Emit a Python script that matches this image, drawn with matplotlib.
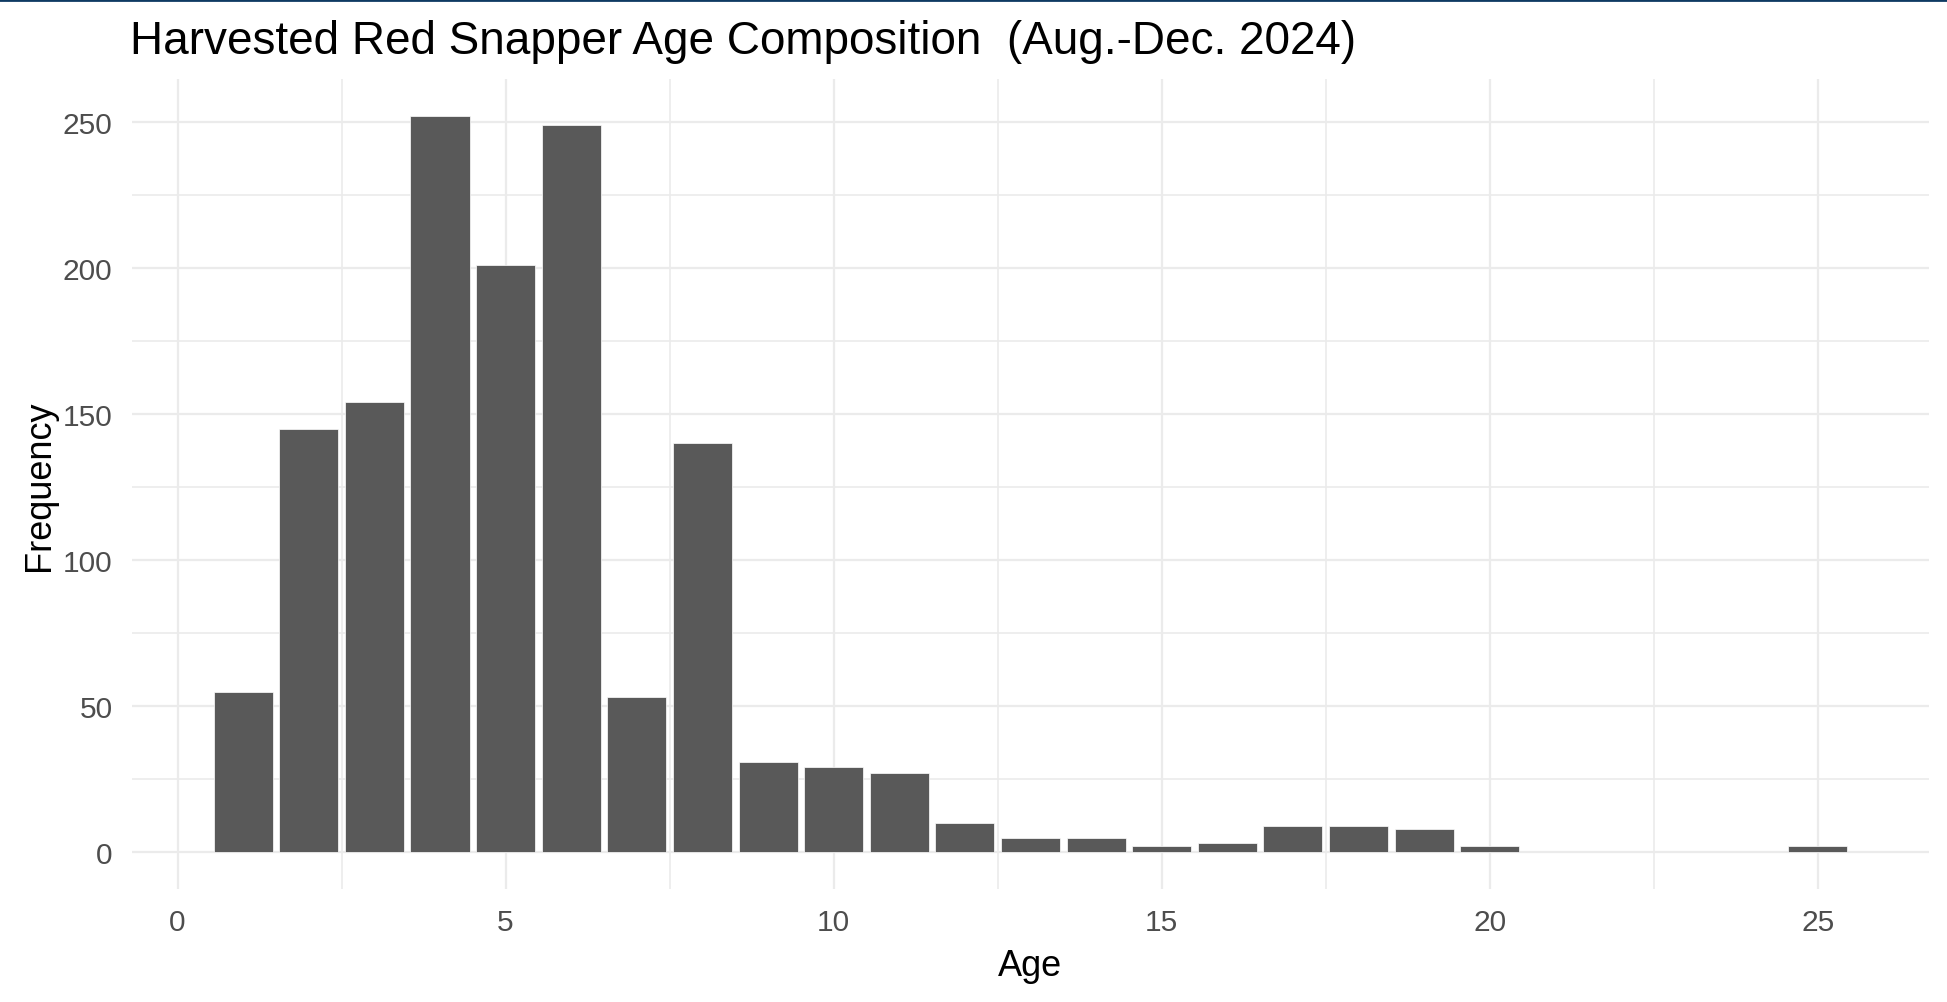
import numpy as np
import matplotlib
matplotlib.use("Agg")
from matplotlib import pyplot as plt
from matplotlib.lines import Line2D

ages = [1, 2, 3, 4, 5, 6, 7, 8, 9, 10, 11, 12, 13, 14, 15, 16, 17, 18, 19, 20, 25]
freq = [55, 145, 154, 252, 201, 249, 53, 140, 31, 29, 27, 10, 5, 5, 2, 3, 9, 9, 8, 2, 2]
x_ticks = [0, 5, 10, 15, 20, 25]
y_ticks = [0, 50, 100, 150, 200, 250]

title = "Harvested Red Snapper Age Composition  (Aug.-Dec. 2024)"


def main():
    plt.rcParams['font.family'] = ['Liberation Sans', 'DejaVu Sans']
    fig = plt.figure(figsize=(19.47, 10.03), dpi=100)
    ax = fig.add_axes([0.0678, 0.1127, 0.9229, 0.8071])

    ax.bar(ages, freq, width=0.9, color='#595959', edgecolor='white', linewidth=0.5, zorder=3)

    # ggplot-style 5% expansion
    x_lo, x_hi = min(ages) - 0.45, max(ages) + 0.45
    dx = (x_hi - x_lo) * 0.05
    ax.set_xlim(x_lo - dx, x_hi + dx)
    dy = max(freq) * 0.05
    ax.set_ylim(-dy, max(freq) + dy)

    ax.set_xticks(x_ticks)
    ax.set_yticks(y_ticks)
    ax.set_xticks([t + 2.5 for t in x_ticks[:-1]], minor=True)
    ax.set_yticks([t + 25 for t in y_ticks[:-1]], minor=True)
    ax.grid(which='major', color='#EBEBEB', linewidth=1.6, zorder=0)
    ax.grid(which='minor', color='#EBEBEB', linewidth=1.2, zorder=0)
    ax.set_axisbelow(True)
    for s in ax.spines.values():
        s.set_visible(False)
    ax.tick_params(which='both', length=0, labelsize=21.5, labelcolor='#4D4D4D')
    ax.tick_params(axis='x', pad=14)
    ax.tick_params(axis='y', pad=14)

    ax.set_xlabel('Age', fontsize=26, labelpad=8)
    ax.set_ylabel('Frequency', fontsize=26, labelpad=4)
    ax.set_title(title, fontsize=33, loc='left', x=-0.001, pad=19)

    # thin navy rule along the very top
    fig.add_artist(Line2D([0, 1], [0.999, 0.999], transform=fig.transFigure, color='#0E3A62', linewidth=2))

    fig.savefig('out.png', dpi=100)


if __name__ == "__main__":
    main()
